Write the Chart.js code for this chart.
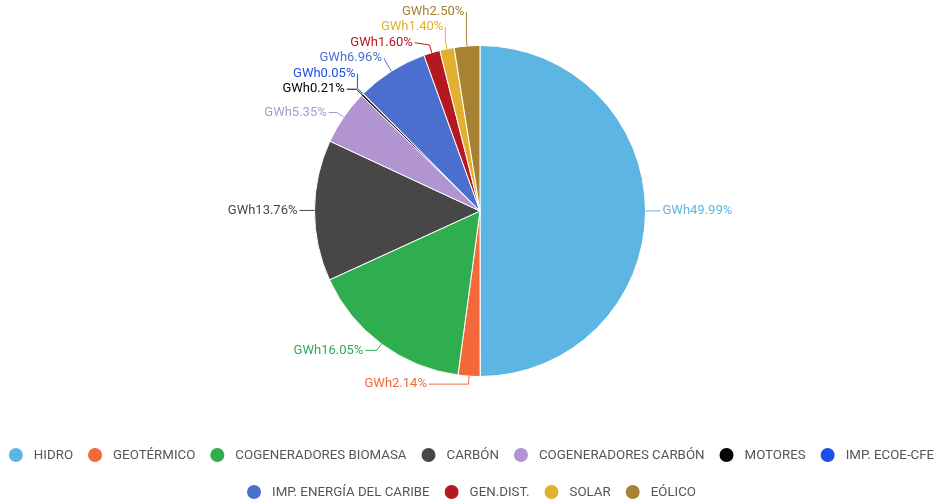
<!DOCTYPE html>
<html>
<head>
<meta charset="utf-8">
<script src="https://cdn.jsdelivr.net/npm/chart.js@4"></script>
<style>
  html, body { margin: 0; padding: 0; background: #fff; }
  #wrap { width: 943px; height: 502px; position: relative; }
</style>
</head>
<body>
<div id="wrap"><canvas id="genChart"></canvas></div>
<script>
// participación por fuente
const fuentes = ['HIDRO', 'GEOTÉRMICO', 'COGENERADORES BIOMASA', 'CARBÓN', 'COGENERADORES CARBÓN',
    'MOTORES', 'IMP. ECOE-CFE', 'IMP. ENERGÍA DEL CARIBE', 'GEN.DIST.', 'SOLAR', 'EÓLICO'];
const porcentajes = [49.99, 2.14, 16.05, 13.76, 5.35, 0.21, 0.05, 6.96, 1.60, 1.40, 2.50];
const colores = ['#5db5e3', '#f4683a', '#2eae4f', '#474747', '#b194d0', '#050505',
    '#1d4fe6', '#4a6fcf', '#b4191f', '#e1b02e', '#a88233'];
const unidad = 'GWh';

const FONT_ETIQ = '13px Roboto, "Noto Sans", sans-serif';
const FONT_LEY = '13.3px Roboto, "Noto Sans", sans-serif';

// etiquetas externas con línea guía
const etiquetasPie = {
    id: 'etiquetasPie',
    afterDatasetsDraw(chart) {
        const ctx = chart.ctx;
        const arcs = chart.getDatasetMeta(0).data;
        const izq = [], der = [];
        let cx = 0, cy = 0, rLab = 0;
        arcs.forEach((arc, i) => {
            const { x, y, startAngle, endAngle, outerRadius } = arc.getProps(['x', 'y', 'startAngle', 'endAngle', 'outerRadius'], true);
            cx = x; cy = y; rLab = outerRadius + 15;
            const mid = (startAngle + endAngle) / 2;
            const cos = Math.cos(mid), sin = Math.sin(mid);
            const item = {
                i,
                p0: { x: x + outerRadius * cos, y: y + outerRadius * sin },
                p1: { x: x + (outerRadius + 8) * cos, y: y + (outerRadius + 8) * sin },
                side: cos < 0 ? -1 : 1
            };
            item.ly = item.p1.y;
            (item.side < 0 ? izq : der).push(item);
        });
        // separar etiquetas empujando hacia arriba desde abajo
        const sep = 15.5;
        [izq, der].forEach(lista => {
            lista.sort((a, b) => b.ly - a.ly);
            for (let k = 1; k < lista.length; k++) {
                lista[k].ly = Math.min(lista[k].ly, lista[k - 1].ly - sep);
            }
        });
        ctx.save();
        ctx.font = FONT_ETIQ;
        ctx.textBaseline = 'middle';
        ctx.lineWidth = 1;
        izq.concat(der).forEach(it => {
            const color = colores[it.i];
            const dy = it.ly - cy;
            // extremo de la guía sobre un círculo algo mayor que la torta
            let ex;
            if (Math.abs(dy) < rLab) {
                ex = cx + it.side * Math.sqrt(rLab * rLab - dy * dy);
                if (it.side < 0) ex = Math.min(ex, it.p1.x);
                else ex = Math.max(ex, it.p1.x);
            } else {
                ex = it.p1.x;
            }
            ctx.strokeStyle = color;
            ctx.beginPath();
            ctx.moveTo(it.p0.x, it.p0.y);
            ctx.lineTo(it.p1.x, it.p1.y);
            ctx.lineTo(ex, it.ly);
            ctx.stroke();
            ctx.fillStyle = color;
            ctx.textAlign = it.side < 0 ? 'right' : 'left';
            ctx.fillText(unidad + porcentajes[it.i].toFixed(2) + '%', ex + it.side * 2, it.ly);
        });
        ctx.restore();
    }
};

// leyenda inferior con círculos, dos filas centradas
const leyenda = {
    id: 'leyenda',
    afterDraw(chart) {
        const ctx = chart.ctx;
        const w = chart.width;
        const rad = 7, hueco = 11, entre = 15, alto = 37, y0 = 455;
        ctx.save();
        ctx.font = FONT_LEY;
        ctx.textBaseline = 'middle';
        ctx.textAlign = 'left';
        const filas = [[]];
        let ancho = 0;
        fuentes.forEach((f, i) => {
            const wi = rad * 2 + hueco + ctx.measureText(f).width;
            if (filas[filas.length - 1].length && ancho + entre + wi > w - 10) {
                filas.push([]);
                ancho = 0;
            }
            ancho += (filas[filas.length - 1].length ? entre : 0) + wi;
            filas[filas.length - 1].push({ i, wi });
        });
        filas.forEach((fila, r) => {
            const total = fila.reduce((s, it) => s + it.wi, 0) + entre * (fila.length - 1);
            let x = (w - total) / 2;
            const y = y0 + r * alto;
            fila.forEach(it => {
                ctx.fillStyle = colores[it.i];
                ctx.beginPath();
                ctx.arc(x + rad, y, rad, 0, Math.PI * 2);
                ctx.fill();
                ctx.fillStyle = '#555';
                ctx.fillText(fuentes[it.i], x + rad * 2 + hueco, y + 1);
                x += it.wi + entre;
            });
        });
        ctx.restore();
    }
};

new Chart(document.getElementById('genChart'), {
    type: 'pie',
    data: {
        labels: fuentes,
        datasets: [{
            data: porcentajes,
            backgroundColor: colores,
            borderColor: '#fff',
            borderWidth: 1
        }]
    },
    options: {
        responsive: true,
        maintainAspectRatio: false,
        animation: false,
        layout: { padding: { top: 45, bottom: 125, left: 17, right: 0 } },
        plugins: {
            legend: { display: false },
            tooltip: { enabled: false }
        }
    },
    plugins: [etiquetasPie, leyenda]
});
</script>
</body>
</html>
